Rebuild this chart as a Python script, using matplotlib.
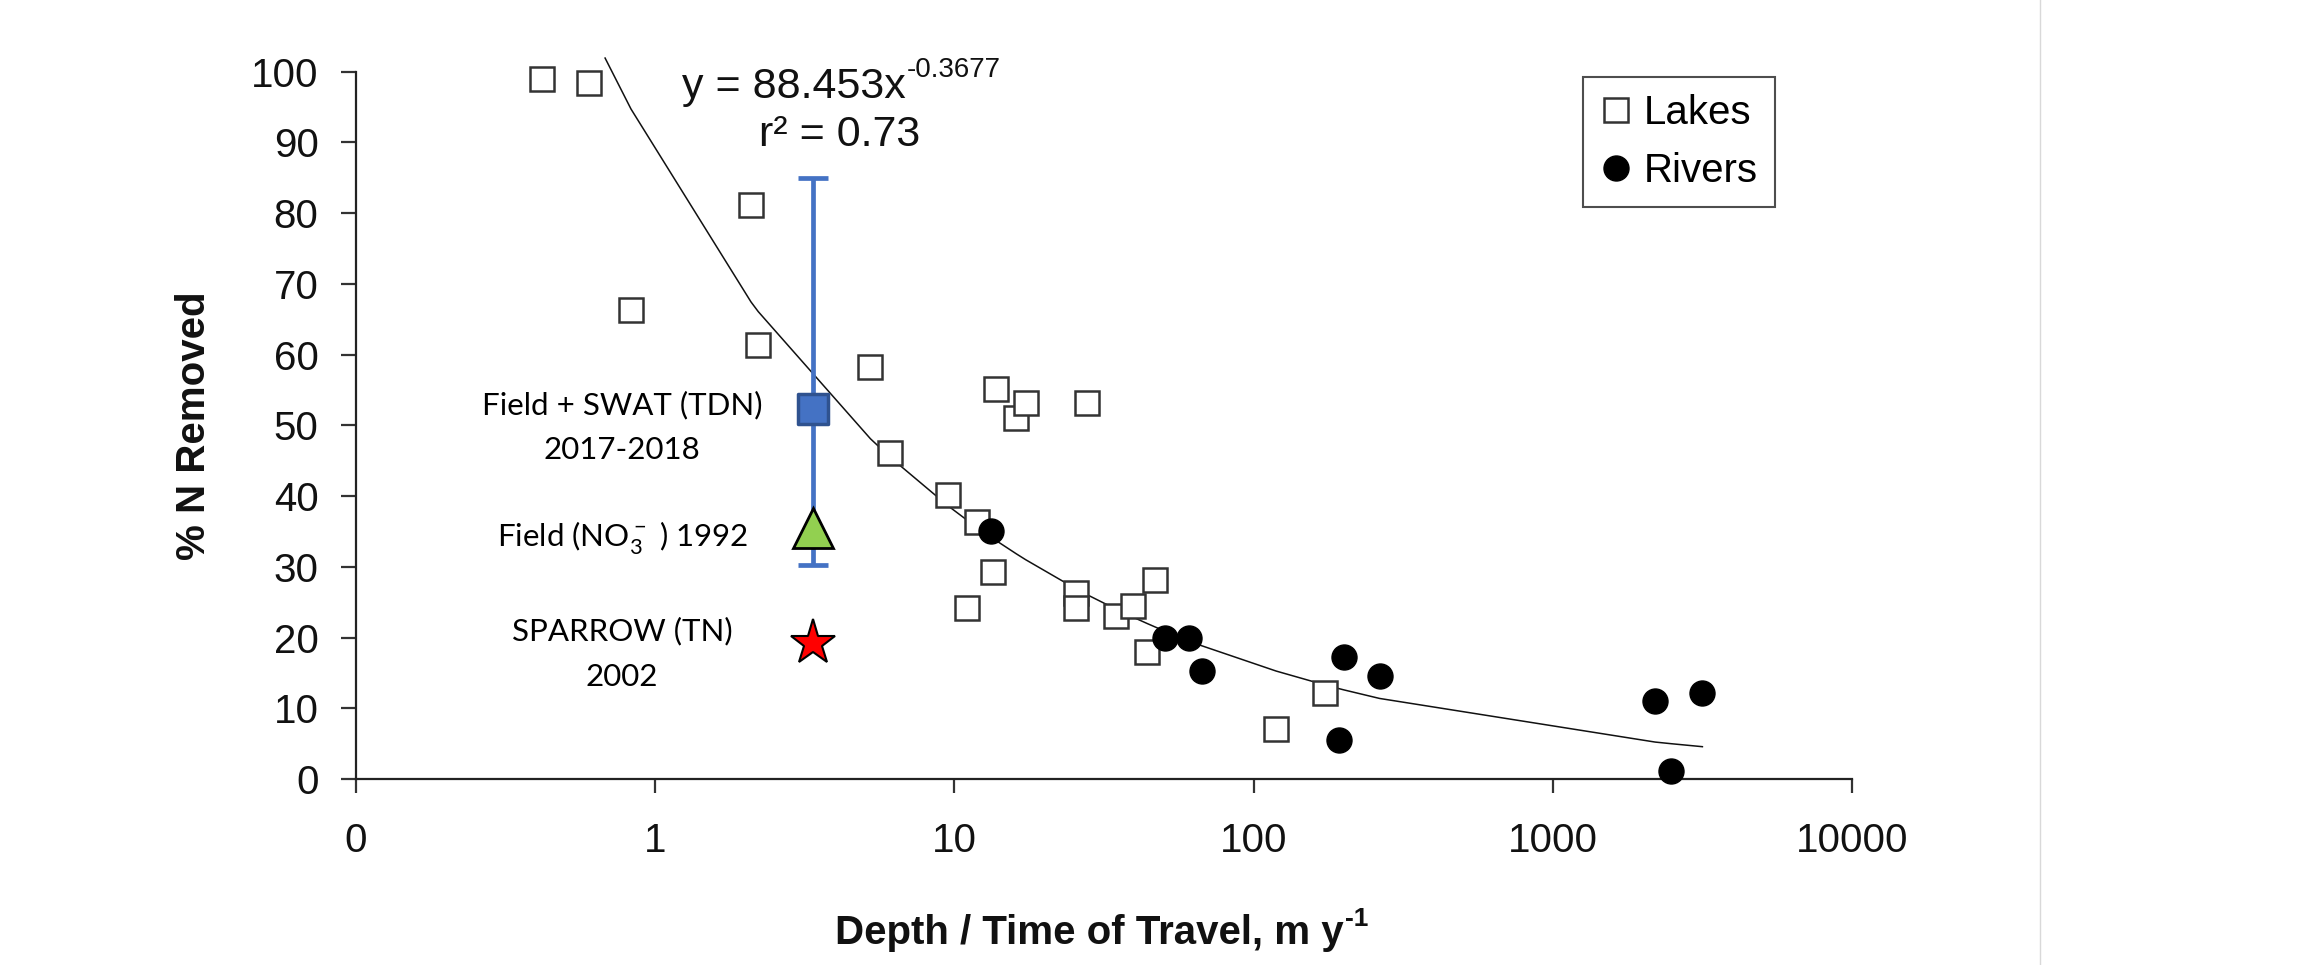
import numpy as np
import matplotlib
matplotlib.use("Agg")
import matplotlib.pyplot as plt
from matplotlib.lines import Line2D
from matplotlib.markers import MarkerStyle

plt.rcParams['font.family'] = ['Liberation Sans', 'DejaVu Sans']
plt.rcParams['mathtext.default'] = 'regular'

# ---------------- data ----------------
lakes_x = [0.42, 0.60, 0.83, 2.09, 2.21, 5.24, 6.09, 9.5, 11.0, 11.9, 13.5, 13.8,
           16.1, 17.3, 25.4, 25.4, 27.7, 34.8, 39.4, 44.0, 46.7, 118.9, 173.4]
lakes_y = [98.9, 98.4, 66.3, 81.2, 61.4, 58.2, 46.1, 40.2, 24.2, 36.3, 29.3, 55.2,
           51.1, 53.2, 26.3, 24.2, 53.2, 23.1, 24.5, 17.9, 28.2, 7.1, 12.2]
rivers_x = [13.3, 50.4, 61.0, 67.0, 193.6, 200.6, 263.6, 2198, 2489, 3162]
rivers_y = [35.1, 19.9, 19.9, 15.2, 5.5, 17.2, 14.6, 11.0, 1.2, 12.1]

fit_a = 88.453
fit_b = -0.3677
fit_r2 = 0.73
trend_start = 0.68

site_x = 3.37
swat_y = 52.3
swat_low = 30.2
swat_high = 85.0
field1992_y = 35.5
sparrow_y = 19.2

xticks = [0.1, 1, 10, 100, 1000, 10000]
xticklabels = ['0', '1', '10', '100', '1000', '10000']
yticks = list(range(0, 101, 10))

# ---------------- figure ----------------
W, H = 2301, 965
fig = plt.figure(figsize=(W / 100, H / 100), dpi=100)
ax = fig.add_axes([356 / W, 1 - 779 / H, (1852 - 356) / W, (779 - 71.7) / H])

ax.set_xscale('log')
ax.set_xlim(0.1, 10000)
ax.set_ylim(0, 100)
for s in ['top', 'right']:
    ax.spines[s].set_visible(False)
for s in ['left', 'bottom']:
    ax.spines[s].set_linewidth(1.6)
    ax.spines[s].set_color('#222222')

ax.set_xticks(xticks)
ax.set_xticklabels(xticklabels)
ax.xaxis.set_minor_locator(matplotlib.ticker.NullLocator())
ax.set_yticks(yticks)
ax.tick_params(axis='both', direction='out', width=1.6, color='#333333',
               labelsize=29, labelcolor='#111111')
ax.tick_params(axis='x', length=10, pad=21)
ax.tick_params(axis='y', length=11, pad=16)

# trend line (vertices at the sorted data x)
tx = sorted([v for v in lakes_x + rivers_x if v > trend_start])
tx = [trend_start] + tx
ty = [fit_a * v ** fit_b for v in tx]
ax.plot(tx, ty, color='#111111', lw=1.1, zorder=2, clip_on=False)

# lakes and rivers
ax.plot(lakes_x, lakes_y, ls='none', marker='s', ms=17.5, mfc='white', mec='#333333',
        mew=1.8, zorder=3, label='Lakes', clip_on=False)
ax.plot(rivers_x, rivers_y, ls='none', marker='o', ms=18, mfc='black', mec='black',
        mew=1, zorder=4, label='Rivers', clip_on=False)

# error bar + site estimates
ax.errorbar([site_x], [swat_y], yerr=[[swat_y - swat_low], [swat_high - swat_y]],
            fmt='none', ecolor='#4472C4', elinewidth=3.4, capsize=11, capthick=3.4,
            zorder=5)
ax.plot([site_x], [swat_y], ls='none', marker=MarkerStyle('s', joinstyle='round'),
        ms=21, mfc='#4472C4', mec='#2F528F', mew=2.5, zorder=6)
ax.plot([site_x], [field1992_y], ls='none', marker='^', ms=29, mfc='#92D050',
        mec='black', mew=2, zorder=6)
ax.plot([site_x], [sparrow_y], ls='none', marker='*', ms=34, mfc='#FF0000',
        mec='black', mew=1.5, zorder=6)

# annotations (Calibri-like)
lab_x = 0.776
cf = ['Lato', 'DejaVu Sans']
afs = 22.5
ax.text(lab_x, 51.5, 'Field + SWAT (TDN)', ha='center', va='baseline', fontsize=afs, family=cf)
ax.text(lab_x, 45.3, '2017-2018', ha='center', va='baseline', fontsize=afs, family=cf)
ax.text(lab_x, 33.0, 'Field (NO$_3^-$ ) 1992', ha='center', va='baseline', fontsize=afs, family=cf)
ax.text(lab_x, 19.6, 'SPARROW (TN)', ha='center', va='baseline', fontsize=afs, family=cf)
ax.text(lab_x, 13.2, '2002', ha='center', va='baseline', fontsize=afs, family=cf)

# equation
eq = ax.text(1.231, 96.3, 'y = %.3fx' % fit_a, ha='left', va='baseline',
             fontsize=31, color='#111111')
ax.annotate('%.4f' % fit_b, xy=(1.0, 0.0), xycoords=eq, xytext=(0.5, 21.5),
            textcoords='offset points', ha='left', va='baseline', fontsize=20,
            color='#111111')
ax.text(4.12, 89.5, 'r² = %.2f' % fit_r2, ha='center', va='baseline', fontsize=31,
        color='#111111')

# axis labels
xl = ax.text(0.49, (779 - 944) / (779 - 71.7), 'Depth / Time of Travel, m y',
             transform=ax.transAxes, ha='center', va='baseline', fontsize=29,
             fontweight='bold', color='#111111')
ax.annotate('-1', xy=(1.0, 0.0), xycoords=xl, xytext=(1, 19),
            textcoords='offset points', ha='left', va='baseline', fontsize=19,
            fontweight='bold', color='#111111')
ax.set_ylabel('% N Removed', fontsize=29, fontweight='bold', color='#111111')
ax.yaxis.set_label_coords((194 - 356) / (1852 - 356), 0.5)
ax.yaxis.label.set_va('center')

# legend
leg = ax.legend(loc='upper left', bbox_to_anchor=(1583 / W, 1 - 77 / H),
                bbox_transform=fig.transFigure, fontsize=29, frameon=True,
                fancybox=False, shadow=False, borderpad=0.42, borderaxespad=0,
                handlelength=0.8, handletextpad=0.3, labelspacing=0.5,
                markerscale=1.0)
leg.get_frame().set_edgecolor('#222222')
leg.get_frame().set_linewidth(1.5)

# thin vertical separator on the right
fig.add_artist(Line2D([2040 / W, 2040 / W], [0, 1], transform=fig.transFigure,
                      color='#d9d9d9', lw=1))

fig.savefig('out.png', dpi=100)
